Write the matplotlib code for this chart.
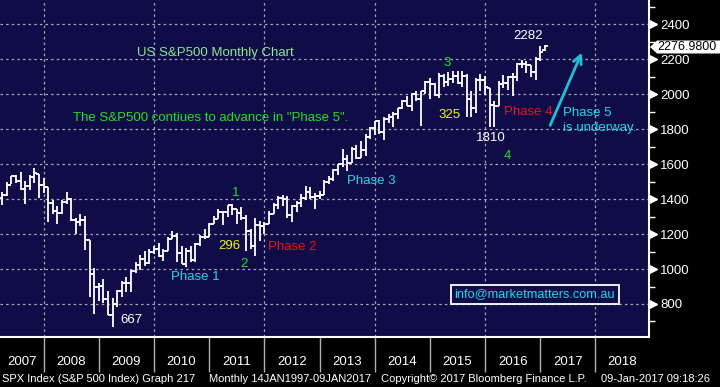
import matplotlib
matplotlib.use("Agg")
import matplotlib.pyplot as plt
from matplotlib.patches import Polygon
import numpy as np
import pandas as pd

plt.rcParams['font.family'] = ['Liberation Sans', 'DejaVu Sans']

# monthly SPX bars, Mar 2007 .. Jan 2017
months = pd.date_range("2007-03-01", "2017-01-01", freq="MS")
opens = [1406, 1421, 1482, 1531, 1503, 1455, 1474, 1527, 1545, 1481,
         1468, 1379, 1331, 1323, 1386, 1400, 1280, 1267, 1283, 1166, 969, 896,
         903, 826, 735, 798, 873, 919, 919, 987, 1021, 1057, 1036, 1096,
         1115, 1074, 1104, 1171, 1187, 1089, 1031, 1102, 1049, 1141, 1183, 1186,
         1258, 1289, 1327, 1326, 1364, 1345, 1321, 1292, 1219, 1131, 1253, 1247,
         1258, 1312, 1366, 1408, 1398, 1310, 1362, 1379, 1407, 1441, 1412, 1416,
         1426, 1498, 1515, 1569, 1598, 1631, 1606, 1686, 1633, 1682, 1757, 1806,
         1848, 1783, 1859, 1872, 1884, 1924, 1960, 1931, 2003, 1972, 2018, 2068,
         2059, 1995, 2105, 2068, 2086, 2107, 2063, 2104, 1972, 1920, 2079, 2080,
         2038, 1940, 1932, 2060, 2065, 2097, 2099, 2174, 2171, 2168, 2126, 2199,
         2251]
highs = [1439, 1499, 1533, 1540, 1556, 1503, 1539, 1576, 1545, 1523,
         1471, 1396, 1359, 1397, 1441, 1404, 1293, 1314, 1304, 1167, 1007, 919,
         944, 876, 833, 878, 930, 957, 997, 1039, 1080, 1101, 1113, 1130,
         1150, 1112, 1181, 1220, 1205, 1132, 1120, 1130, 1148, 1196, 1227, 1263,
         1303, 1345, 1333, 1367, 1371, 1346, 1357, 1307, 1230, 1292, 1277, 1269,
         1333, 1378, 1420, 1422, 1415, 1364, 1392, 1427, 1475, 1471, 1434, 1448,
         1509, 1530, 1570, 1598, 1687, 1654, 1698, 1709, 1730, 1775, 1813, 1849,
         1851, 1867, 1884, 1897, 1924, 1968, 1991, 2005, 2019, 2018, 2075, 2093,
         2065, 2119, 2117, 2126, 2135, 2130, 2132, 2113, 2021, 2094, 2117, 2104,
         2038, 1963, 2073, 2111, 2104, 2120, 2178, 2193, 2188, 2169, 2214, 2278,
         2282]
lows = [1364, 1416, 1484, 1490, 1452, 1371, 1451, 1490, 1407, 1435,
        1270, 1317, 1257, 1315, 1373, 1272, 1200, 1248, 1107, 840, 741, 815,
        805, 735, 667, 783, 839, 867, 869, 980, 992, 1020, 1029, 1086,
        1071, 1045, 1101, 1170, 1040, 1028, 1011, 1040, 1039, 1131, 1173, 1186,
        1257, 1289, 1249, 1299, 1311, 1258, 1283, 1101, 1114, 1075, 1158, 1202,
        1258, 1312, 1341, 1358, 1292, 1267, 1325, 1355, 1396, 1403, 1343, 1398,
        1426, 1485, 1502, 1536, 1581, 1560, 1604, 1627, 1633, 1646, 1746, 1767,
        1770, 1738, 1834, 1815, 1859, 1915, 1930, 1905, 1964, 1821, 2001, 1972,
        1988, 1980, 2039, 2048, 2067, 2056, 2044, 1867, 1872, 1893, 2019, 1993,
        1812, 1810, 1932, 2034, 2026, 1992, 2074, 2148, 2120, 2097, 2084, 2188,
        2245]
closes = [1421, 1482, 1531, 1503, 1455, 1474, 1527, 1549, 1481, 1468,
          1379, 1331, 1323, 1386, 1400, 1280, 1267, 1283, 1166, 969, 896, 903,
          826, 735, 798, 873, 919, 919, 987, 1021, 1057, 1036, 1096, 1115,
          1074, 1104, 1169, 1187, 1089, 1031, 1102, 1049, 1141, 1183, 1181, 1258,
          1286, 1327, 1326, 1364, 1345, 1321, 1292, 1219, 1131, 1253, 1247, 1258,
          1312, 1366, 1408, 1398, 1310, 1362, 1379, 1407, 1441, 1412, 1416, 1426,
          1498, 1515, 1569, 1598, 1631, 1606, 1686, 1633, 1682, 1757, 1806, 1848,
          1783, 1859, 1872, 1884, 1924, 1960, 1931, 2003, 1972, 2018, 2068, 2059,
          1995, 2105, 2068, 2086, 2107, 2063, 2104, 1972, 1920, 2079, 2080, 2044,
          1940, 1932, 2060, 2065, 2097, 2099, 2174, 2171, 2168, 2126, 2199, 2239,
          2277]

last_price = "2276.9800"
years = list(range(2007, 2019))
footer = ["SPX Index (S&P 500 Index) Graph 217",
          "Monthly 14JAN1997-09JAN2017",
          "Copyright\u00a9 2017 Bloomberg Finance L.P.",
          "09-Jan-2017 09:18:26"]

NAVY = '#0f0c48'
GREEN = '#22e022'
CYAN = '#22d8e4'
YELLOW = '#f2f21e'
RED = '#e8141a'

fig = plt.figure(figsize=(7.2, 3.87), dpi=100, facecolor='black')
ax = fig.add_axes([0, 1 - 336.5 / 387, 649 / 720, 336.5 / 387], facecolor=NAVY)
x0, x1 = 2007.21, 2018.97
ax.set_xlim(x0, x1)
ax.set_ylim(614, 2539)

# grid
for y in range(800, 2600, 200):
    ax.axhline(y, color='#a8a8b8', lw=0.9, ls=(0, (2, 2.5)), zorder=1)
for yr in range(2008, 2020, 2):
    ax.axvline(yr, color='#a8a8b8', lw=0.9, ls=(0, (2, 2.5)), zorder=1)

# OHLC bars, plotted at month end
xs = np.array([d.year + d.month / 12 for d in months])
w = 0.055
ax.vlines(xs, lows, highs, color='white', lw=1.3, zorder=3)
ax.hlines(opens, xs - w, xs, color='white', lw=1.3, zorder=3)
ax.hlines(closes, xs, xs + w, color='white', lw=1.3, zorder=3)

# spines
for s in ['top', 'left']:
    ax.spines[s].set_visible(False)
for s in ['right', 'bottom']:
    ax.spines[s].set_color('white')
    ax.spines[s].set_linewidth(1.5)

# y axis on the right
ax.yaxis.tick_right()
ax.set_yticks(range(800, 2600, 200))
ax.set_yticks(range(700, 2600, 100), minor=True)
ax.tick_params(axis='y', which='major', length=0, pad=8, labelsize=9.5, labelcolor='white')
ax.tick_params(axis='y', which='minor', length=4, width=1, color='white', direction='out')
tri_x = x1 + 4 / 55.19
ax.plot([tri_x] * 9, range(800, 2600, 200), ls='none', marker='>', ms=6,
        color='white', clip_on=False, zorder=5)

# x axis: year separators and labels
ax.set_xticks(range(2008, 2019))
ax.tick_params(axis='x', which='major', length=25, width=1, color='#b0b0b0',
               direction='out', labelbottom=False)
mids = [(max(y, x0) + min(y + 1, x1)) / 2 for y in years]
ax.set_xticks(mids, minor=True)
ax.set_xticklabels([str(y) for y in years], minor=True)
ax.tick_params(axis='x', which='minor', length=0, pad=14, labelsize=9.5, labelcolor='white')

# texts
ax.text(2011.12, 2236, "US S&P500 Monthly Chart", color='#8ee88e', fontsize=9.5,
        ha='center', va='center')
ax.text(2011.03, 1864, 'The S&P500 contiues to advance in "Phase 5".', color=GREEN,
        fontsize=9.5, ha='center', va='center')

labels = [
    ("667", 2009.585, 708, 'white'),
    ("Phase 1", 2010.743, 954, CYAN),
    ("296", 2011.36, 1132, YELLOW),
    ("2", 2011.633, 1027, GREEN),
    ("1", 2011.48, 1437, GREEN),
    ("Phase 2", 2012.51, 1128, RED),
    ("Phase 3", 2013.93, 1502, CYAN),
    ("3", 2015.31, 2177, GREEN),
    ("325", 2015.36, 1881, YELLOW),
    ("1810", 2016.10, 1751, 'white'),
    ("4", 2016.40, 1648, GREEN),
    ("Phase 4", 2016.78, 1900, RED),
    ("2282", 2016.77, 2333, 'white'),
]
for txt, x, y, c in labels:
    ax.text(x, y, txt, color=c, fontsize=9.5, ha='center', va='center', zorder=6)

ax.text(2017.415, 1851, "Phase 5\nis underway.", color=CYAN, fontsize=9.5,
        ha='left', va='center', linespacing=1.3, zorder=6)

ax.annotate("", xy=(2017.774, 2253), xytext=(2017.158, 1807),
            arrowprops=dict(arrowstyle='->,head_length=0.6,head_width=0.3',
                            color='#1ec0d4', lw=2))

ax.text(2016.90, 854, "info@marketmatters.com.au", color=CYAN, fontsize=9.2,
        ha='center', va='center', zorder=6,
        bbox=dict(boxstyle='square,pad=0.3', facecolor=NAVY, edgecolor='white', lw=1.3))

# last price tag
pts = [(650, 47), (657, 40.5), (720, 40.5), (720, 53.5), (657, 53.5)]
fig.add_artist(Polygon([(px / 720, 1 - py / 387) for px, py in pts], closed=True,
                       facecolor='white', edgecolor='none', transform=fig.transFigure))
fig.text(657 / 720, 1 - 47 / 387, last_price, color='black', fontsize=9,
         ha='left', va='center')

# footer
for txt, px in zip(footer, [2, 209, 381, 601]):
    fig.text(px / 720, 1 - 379 / 387, txt, color='white', fontsize=8,
             ha='left', va='center')

fig.savefig("out.png", dpi=100, facecolor='black')
